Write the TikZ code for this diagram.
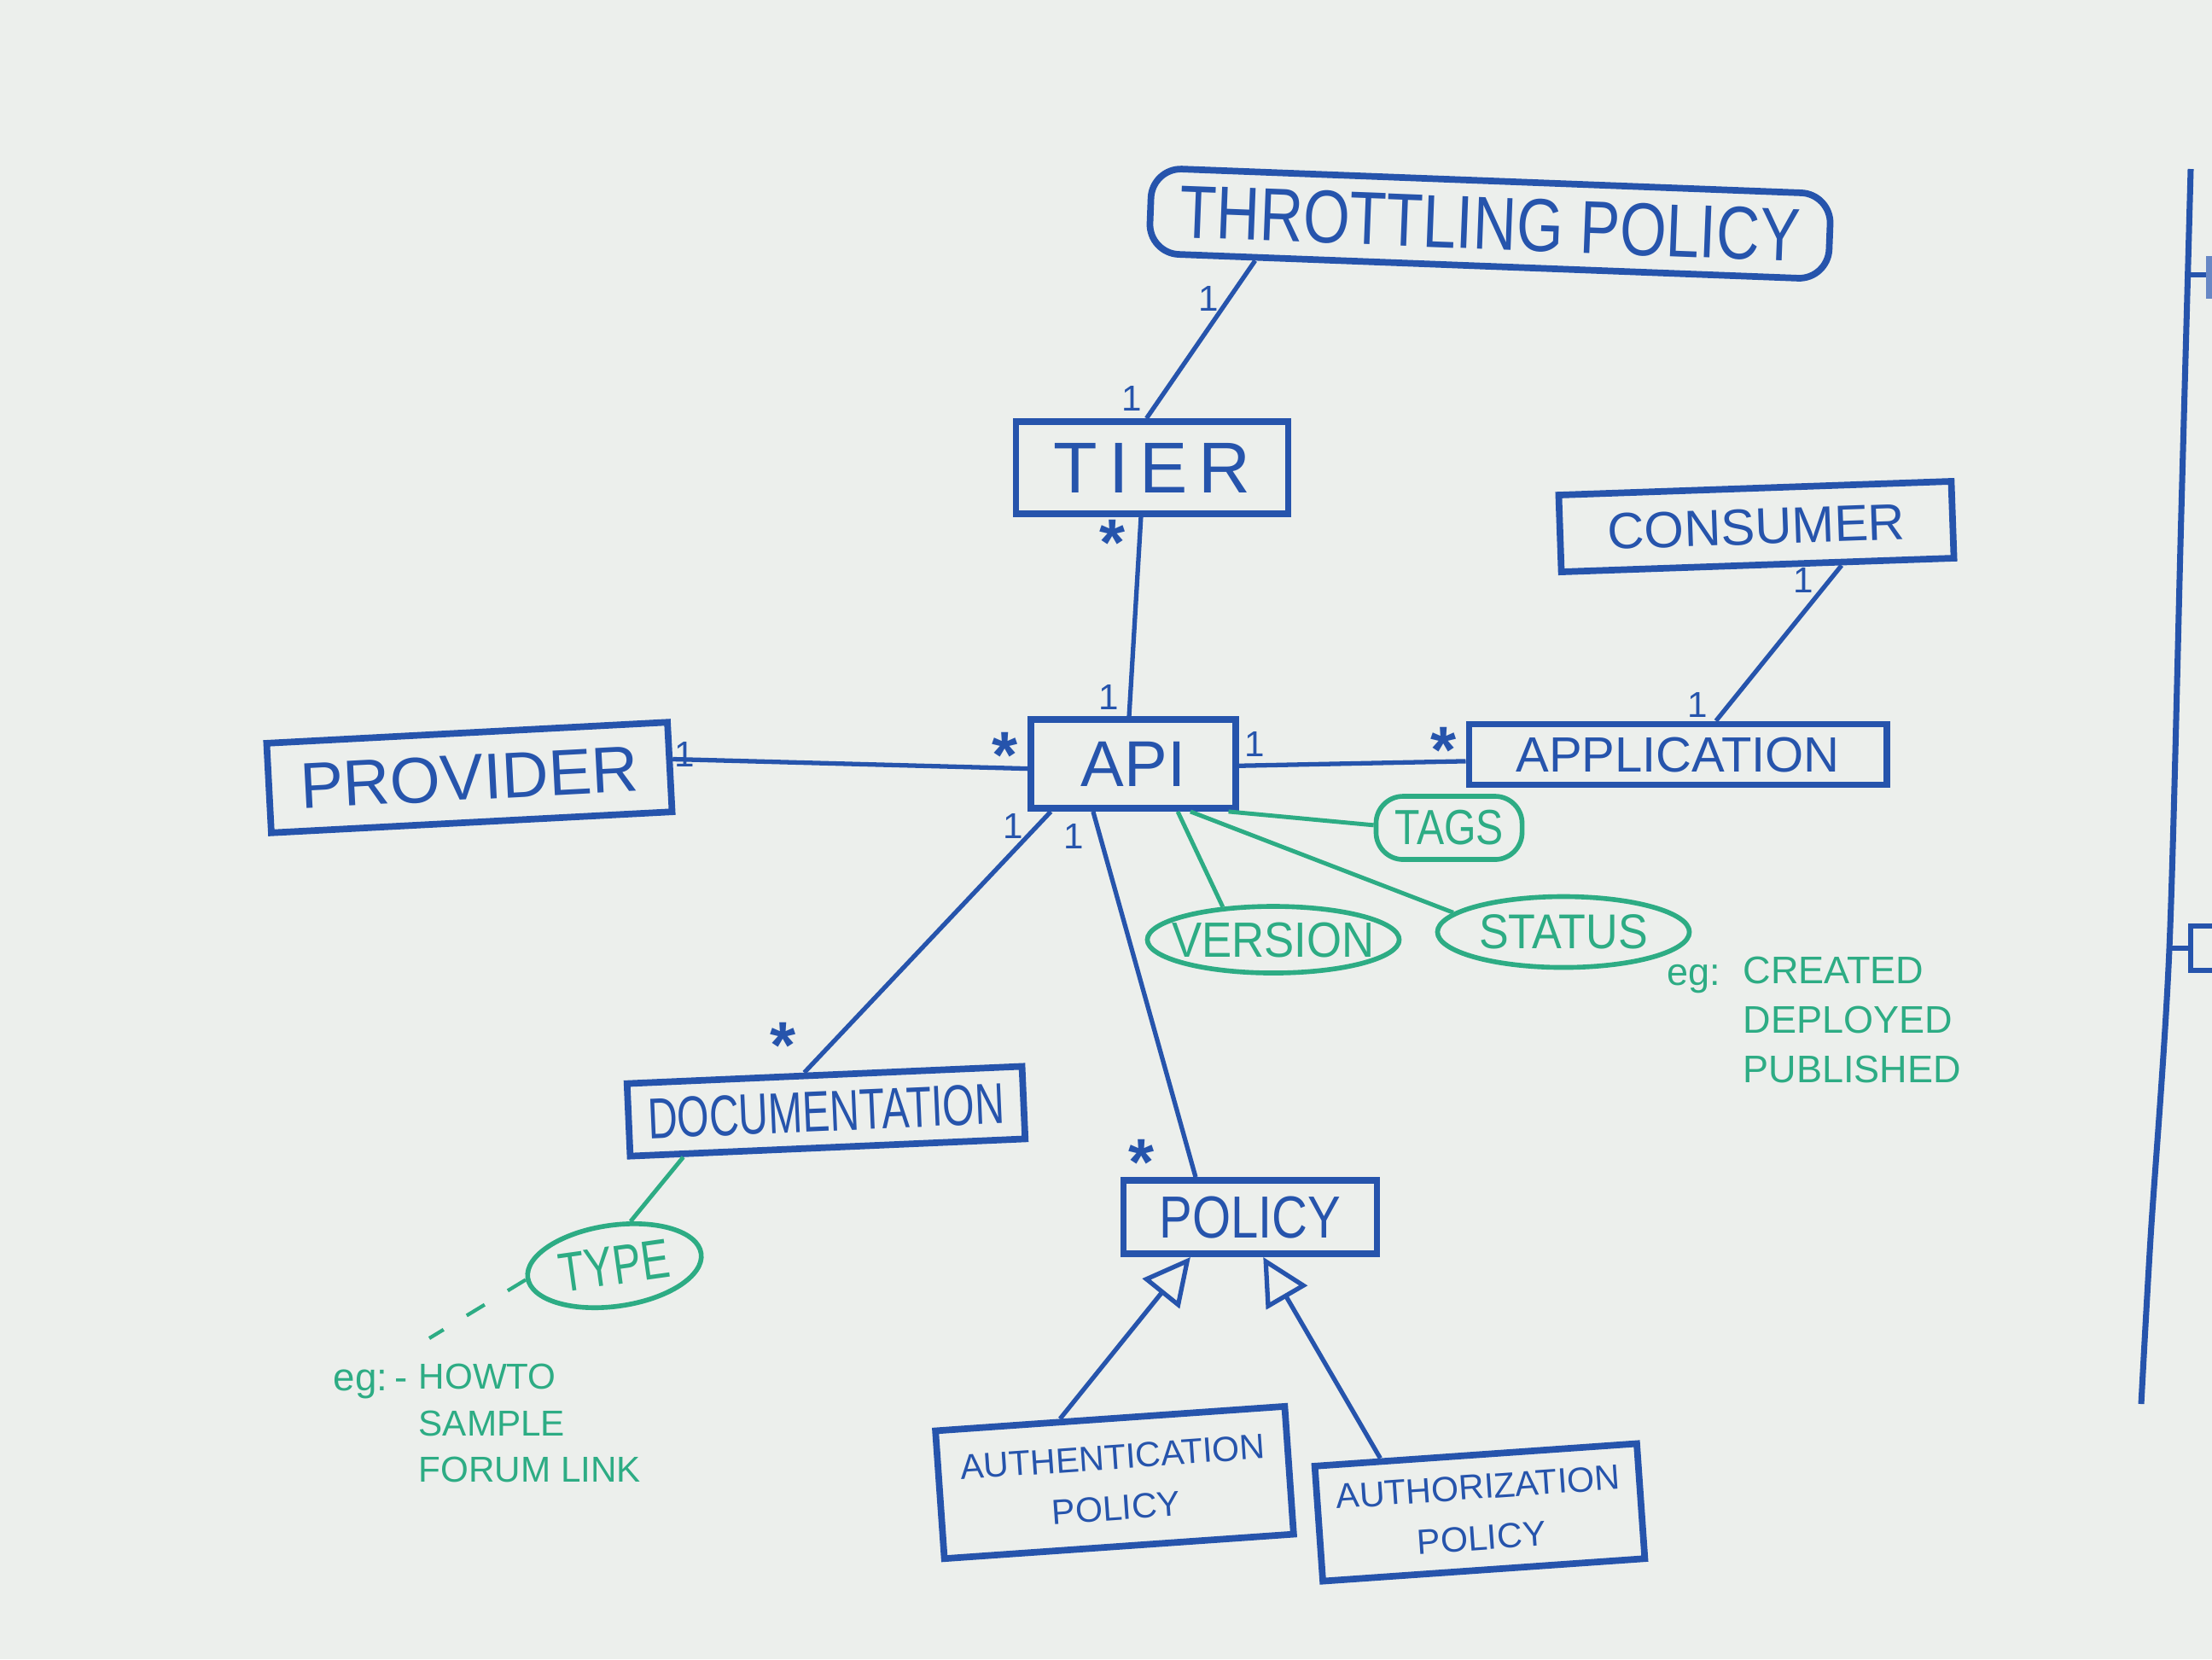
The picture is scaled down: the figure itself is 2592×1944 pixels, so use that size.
\documentclass[tikz,border=0pt]{standalone}
\usepackage{fontspec}
\setmainfont{Liberation Sans}
\usetikzlibrary{shapes.geometric,arrows.meta,calc}
\definecolor{board}{RGB}{236,239,236}
\definecolor{ink}{RGB}{38,84,172}
\definecolor{gink}{RGB}{45,172,132}
\newcommand{\hs}[2][1.2]{\scalebox{1}[#1]{#2}}
\newcommand{\fsz}[2]{\fontsize{#1}{#2}\selectfont}
\begin{document}
\begin{tikzpicture}[x=0.01cm,y=-0.01cm,
 box/.style={draw=ink, line width=2.2pt, rectangle, inner sep=0pt, text=ink},
 oval/.style={draw=gink, line width=1.6pt, ellipse, inner sep=0pt, text=gink},
 conn/.style={draw=ink, line width=1.5pt},
 gconn/.style={draw=gink, line width=1.4pt},
 mult/.style={text=ink, inner sep=0pt, font=\fsz{12pt}{12pt}},
 starlbl/.style={text=ink, inner sep=0pt, font=\fsz{22pt}{22pt}\bfseries},
 note/.style={text=gink, inner sep=0pt, align=left},
 inh/.style={conn, -{Triangle[open, length=0.55cm, width=0.55cm]}},
]
\fill[board] (0,0) rectangle (2592,1944);
\useasboundingbox (0,0) rectangle (2592,1944);

% classes
\node[box, rounded corners=10pt, minimum width=7.96cm, minimum height=1.0cm, rotate=-2.2, font=\fsz{20pt}{24pt}] (thr) at (1746,262) {\hs[1.25]{THROTTLING POLICY}};
\node[box, minimum width=3.19cm, minimum height=1.08cm, font=\fsz{24pt}{28pt}] (tier) at (1350,548) {\addfontfeature{LetterSpace=15}TIER};
\node[box, minimum width=4.6cm, minimum height=0.9cm, rotate=2, font=\fsz{17pt}{20pt}] (cons) at (2058,617) {CONSUMER};
\node[box, minimum width=4.7cm, minimum height=1.05cm, rotate=3, font=\fsz{21.6pt}{25pt}] (prov) at (550,911) {PROVIDER};
\node[box, minimum width=2.4cm, minimum height=1.04cm, font=\fsz{21.6pt}{25pt}] (api) at (1328,895) {API};
\node[box, minimum width=4.89cm, minimum height=0.71cm, font=\fsz{16.5pt}{20pt}] (app) at (1966,884) {APPLICATION};
\node[box, minimum width=4.63cm, minimum height=0.85cm, rotate=2.5, font=\fsz{13.7pt}{16pt}] (doc) at (968,1302) {\hs[1.4]{DOCUMENTATION}};
\node[box, minimum width=2.97cm, minimum height=0.86cm, font=\fsz{16.5pt}{20pt}] (pol) at (1465,1426) {\hs{POLICY}};
\node[box, minimum width=4.1cm, minimum height=1.5cm, rotate=4, align=center, font=\fsz{11.7pt}{17pt}] (authn) at (1306,1737) {AUTHENTICATION\\POLICY};
\node[box, minimum width=3.78cm, minimum height=1.35cm, rotate=4, align=center, font=\fsz{11.7pt}{17pt}] (authz) at (1734,1772) {AUTHORIZATION\\POLICY};

% attributes
\node[draw=gink, line width=1.6pt, rounded corners=9pt, inner sep=0pt, text=gink, minimum width=1.71cm, minimum height=0.74cm, font=\fsz{13.7pt}{16pt}] (tags) at (1698,970) {\hs{TAGS}};
\node[oval, minimum width=2.95cm, minimum height=0.78cm, font=\fsz{15pt}{18pt}] (ver) at (1492,1101) {\makebox[0pt]{\hs[1.1]{VERSION}}};
\node[oval, minimum width=2.95cm, minimum height=0.83cm, font=\fsz{14.8pt}{18pt}] (stat) at (1832,1092) {\makebox[0pt]{\hs[1.1]{STATUS}}};
\node[oval, minimum width=2.05cm, minimum height=0.95cm, rotate=8, font=\fsz{14.2pt}{17pt}] (type) at (720,1483) {\makebox[0pt]{\hs[1.3]{TYPE}}};

% notes
\node[note, anchor=west, font=\fsz{12.8pt}{16.5pt}] (egs) at (1953,1147) {eg:};
\node[note, anchor=north west, font=\fsz{12.8pt}{16.5pt}] (egsl) at (2042,1120) {CREATED\\DEPLOYED\\PUBLISHED};
\node[note, anchor=east, font=\fsz{13pt}{16pt}] (egt) at (478,1622) {eg:\,-};
\node[note, anchor=north west, font=\fsz{12pt}{15.6pt}] (egtl) at (490,1597) {HOWTO\\SAMPLE\\FORUM LINK};
\coordinate (dotend) at (503,1568);

% multiplicities
\node[mult] (m1) at (1416,350) {1};
\node[mult] (m2) at (1326,467) {1};
\node[starlbl] (m3) at (1304,636) {*};
\node[mult] (m4) at (1299,817) {1};
\node[starlbl] (m5) at (1178,885) {*};
\node[mult] (m6) at (802,884) {1};
\node[mult] (m7) at (1470,872) {1};
\node[starlbl] (m8) at (1692,879) {*};
\node[mult] (m9) at (2113,680) {1};
\node[mult] (m10) at (1989,826) {1};
\node[mult] (m11) at (1187,968) {1};
\node[mult] (m12) at (1258,980) {1};
\node[starlbl] (m13) at (918,1225) {*};
\node[starlbl] (m14) at (1338,1362) {*};

% associations
\draw[conn] ($(thr.south west)!0.16!(thr.south east)$) -- ($(tier.north west)!0.48!(tier.north east)$);
\draw[conn] ($(tier.south west)!0.46!(tier.south east)$) -- ($(api.north west)!0.48!(api.north east)$);
\draw[conn] ($(prov.north east)!0.42!(prov.south east)$) -- ($(api.north west)!0.55!(api.south west)$);
\draw[conn] ($(api.north east)!0.52!(api.south east)$) -- ($(app.north west)!0.6!(app.south west)$);
\draw[conn] ($(cons.south west)!0.71!(cons.south east)$) -- ($(app.north west)!0.59!(app.north east)$);
\draw[conn] ($(api.south west)!0.11!(api.south east)$) -- ($(doc.north west)!0.45!(doc.north east)$);
\draw[conn] ($(api.south west)!0.31!(api.south east)$) -- ($(pol.north west)!0.29!(pol.north east)$);

% attribute links
\draw[gconn] ($(api.south west)!0.95!(api.south east)$) -- ($(tags.north west)!0.46!(tags.south west)$);
\draw[gconn] ($(api.south west)!0.77!(api.south east)$) -- (stat.170);
\draw[gconn] ($(api.south west)!0.71!(api.south east)$) -- (ver.147);
\draw[gconn] ($(doc.south west)!0.14!(doc.south east)$) -- (type.62);
\draw[gconn, line width=1.2pt, dash pattern=on 7pt off 9pt] (type.181) -- (dotend);

% generalisation
\draw[inh] ($(authn.north west)!0.36!(authn.north east)$) -- ($(pol.south west)!0.27!(pol.south east)$);
\draw[inh] ($(authz.north west)!0.21!(authz.north east)$) -- ($(pol.south west)!0.55!(pol.south east)$);

% partial drawing at the right edge
\draw[conn, line width=2pt] plot[smooth] coordinates {(2567,198) (2556,600) (2542,1111) (2520,1450) (2509,1645)};
\draw[conn] (2561,322) -- (2592,322);
\fill[ink!70] (2585,300) rectangle (2592,350);
\draw[conn] (2542,1111) -- (2567,1111);
\draw[conn] (2592,1085) -- (2567,1085) -- (2567,1137) -- (2592,1137);
\end{tikzpicture}
\end{document}
